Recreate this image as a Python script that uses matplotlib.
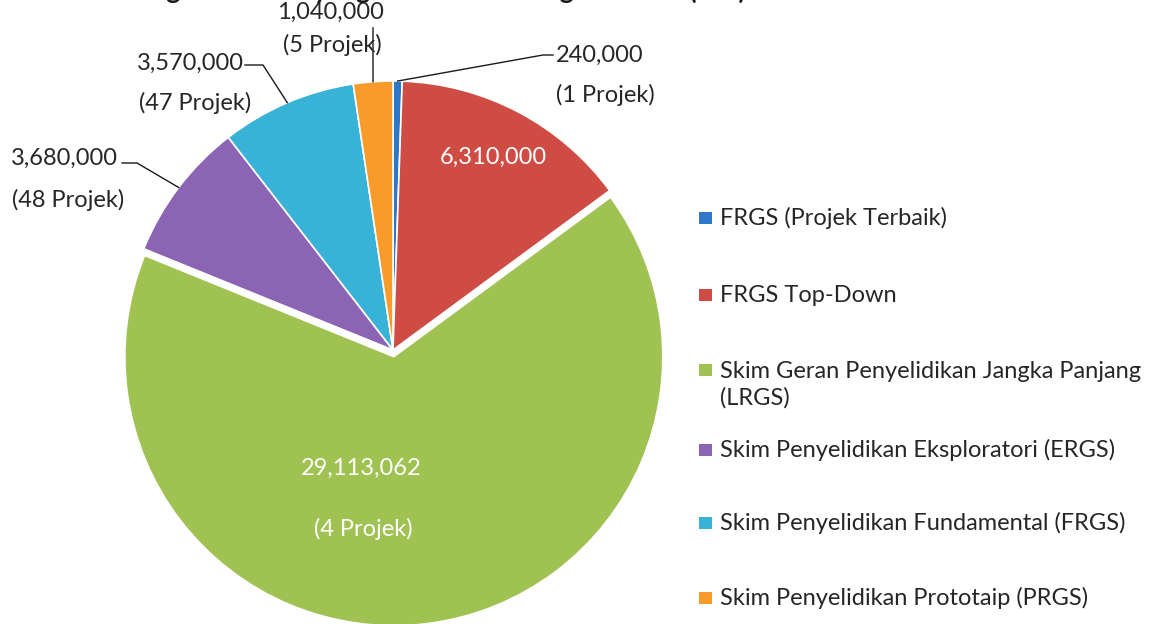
import numpy as np
import matplotlib
matplotlib.use("Agg")
import matplotlib.pyplot as plt
from matplotlib.patches import Rectangle

plt.rcParams['font.family'] = ['Lato', 'DejaVu Sans']

# ---- data ----
categories = ["FRGS (Projek Terbaik)", "FRGS Top-Down",
              "Skim Geran Penyelidikan Jangka Panjang\n(LRGS)",
              "Skim Penyelidikan Eksploratori (ERGS)",
              "Skim Penyelidikan Fundamental (FRGS)",
              "Skim Penyelidikan Prototaip (PRGS)"]
values = [240000, 6310000, 29113062, 3680000, 3570000, 1040000]
projects = [1, None, 4, 48, 47, 5]
colors = ['#2F78C8', '#CF4C45', '#9FC253', '#8B65B3', '#39B2D8', '#F89B2A']
title = "Agihan Geran yang Diluluskan Mengikut Skim (RM)"

W, H = 1156, 624
CX, CY, R = 393, 350, 269  # pie centre / radius in pixels
FS = 17

fig = plt.figure(figsize=(W / 100, H / 100), dpi=100)
ax = fig.add_axes([0, 0, 1, 1])

wedges, _ = ax.pie(values, colors=colors, startangle=90, counterclock=False,
                   explode=[0, 0, 0.025, 0, 0, 0], radius=1.0,
                   wedgeprops=dict(edgecolor='white', linewidth=1.2))
ax.set_xlim(-CX / R, (W - CX) / R)
ax.set_ylim(-(H - CY) / R, CY / R)
ax.set_aspect('auto')
ax.axis('off')


def px(x, y):
    return ((x - CX) / R, (CY - y) / R)


def fmt(v):
    return f"{v:,}"


def anchor(i):
    w = wedges[i]
    a = np.deg2rad((w.theta1 + w.theta2) / 2)
    return np.cos(a), np.sin(a)


txt_kw = dict(fontsize=FS, color='#262626')

# inside labels
ax.text(*px(493, 157), fmt(values[1]), ha='center', va='center',
        fontsize=FS, color='white')
ax.text(*px(361, 468), fmt(values[2]), ha='center', va='center',
        fontsize=FS, color='white')
ax.text(*px(363, 529), f"({projects[2]} Projek)", ha='center', va='center',
        fontsize=FS, color='white')

# outside labels with leader lines
outside = {
    0: ((600, 55), (605, 95), [(543, 55), (553, 55)]),
    5: ((330, 12), (332, 45), [(373, 28)]),
    4: ((190, 63), (195, 103), [(263, 65), (245, 65)]),
    3: ((64, 158), (68, 200), [(137, 163), (122, 163)]),
}
for i, (vp, pp, elbows) in outside.items():
    ax.text(*px(*vp), fmt(values[i]), ha='center', va='center', **txt_kw)
    ax.text(*px(*pp), f"({projects[i]} Projek)", ha='center', va='center', **txt_kw)
    a = anchor(i)
    pts = [a] + [px(*e) for e in elbows]
    xs, ys = zip(*pts)
    ax.plot(xs, ys, color='#1a1a1a', lw=1.0)

# title (cut off at the top of the picture, as in the reference)
fig.text(447 / W, 1 + 1 / H, title, ha='center', va='baseline',
         fontsize=19, fontweight='bold', color='#1a1a1a')

# legend (manual)
rows = [218, 295, 370, 450, 523, 598]
for i, (lab, y) in enumerate(zip(categories, rows)):
    fig.patches.append(Rectangle((699 / W, 1 - (y + 6) / H), 13 / W, 12 / H,
                                 transform=fig.transFigure, facecolor=colors[i],
                                 edgecolor='none'))
    n = lab.count("\n")
    yc = y + 15 * n
    fig.text(720 / W, 1 - yc / H, lab, ha='left', va='center',
             fontsize=FS, color='#262626', linespacing=1.3)

fig.savefig("out.png", dpi=100, facecolor='white')
